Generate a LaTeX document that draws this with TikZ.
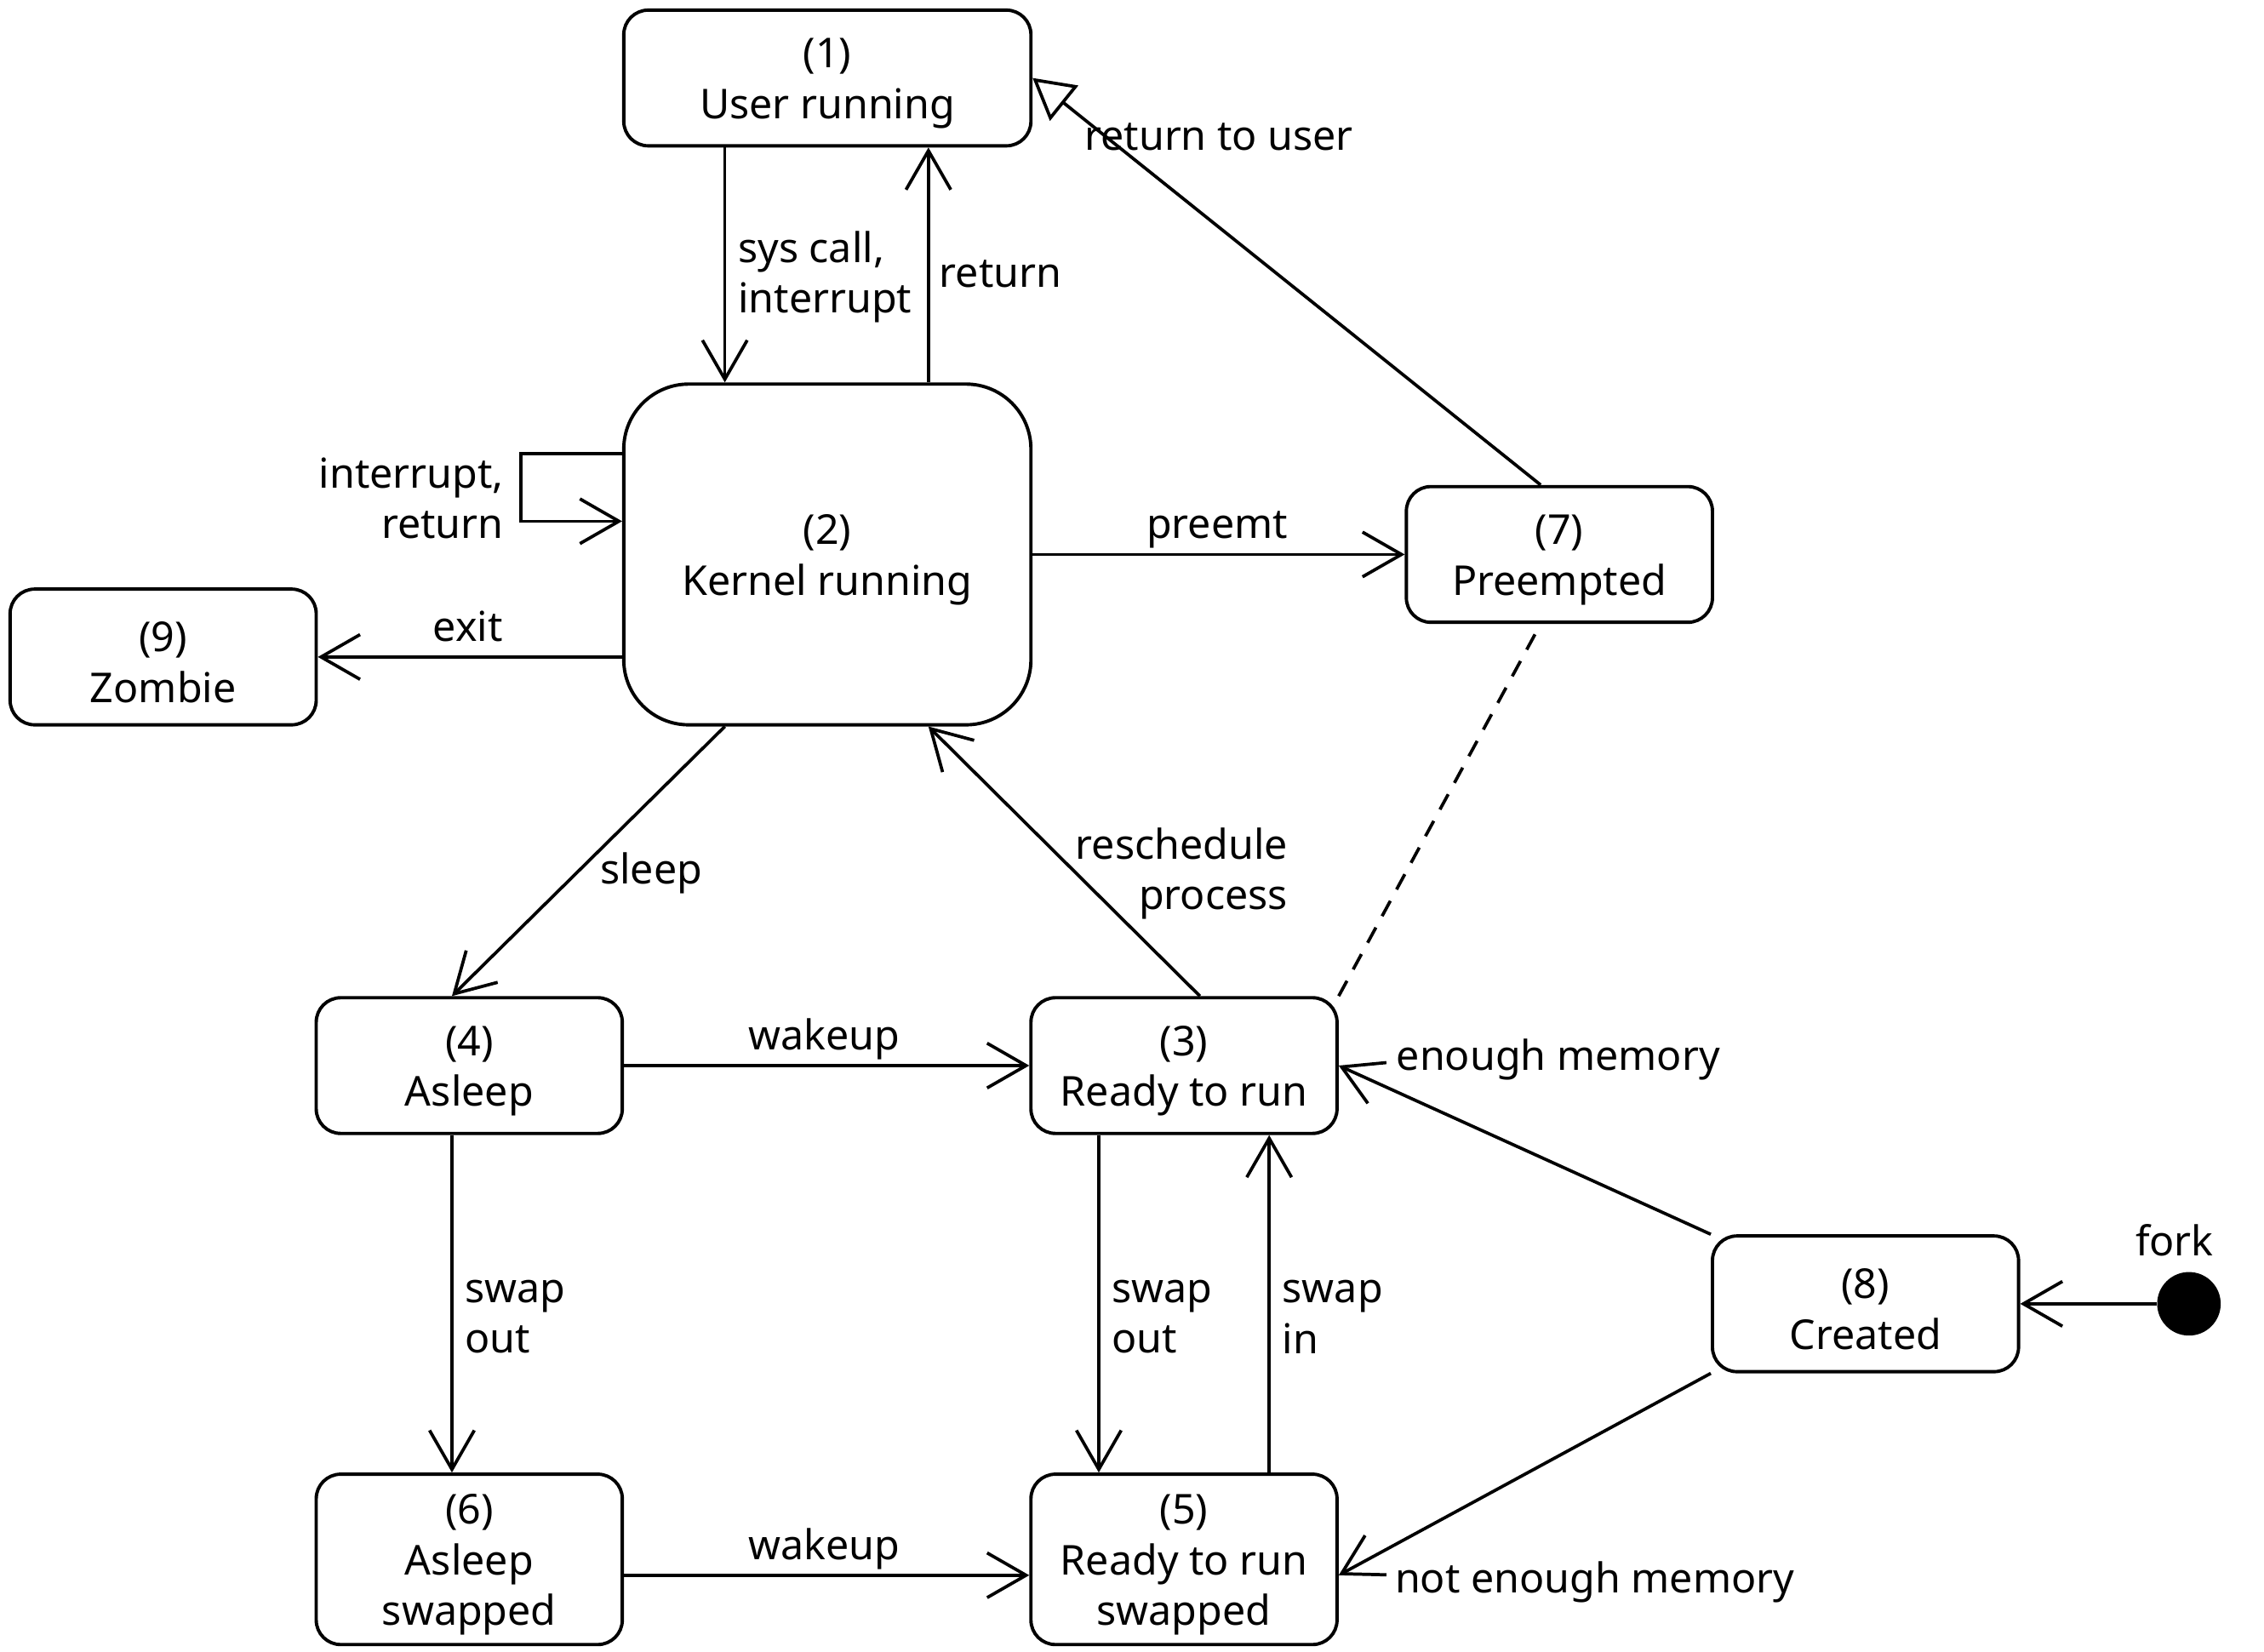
\documentclass[tikz,border=0pt]{standalone}
\usepackage{fontspec}
\setmainfont{Noto Sans}
\usetikzlibrary{arrows.meta,calc}
\newcommand\stpad{\rule{0pt}{28pt}}
\begin{document}
\begin{tikzpicture}[x=1pt,y=-1pt,
  every node/.style={font=\fontsize{28.5}{35}\selectfont},
  state/.style={draw, line width=2.3pt, rounded corners=17pt, align=center,
    minimum width=212pt, minimum height=94pt, inner sep=0pt},
  edge/.style={line width=2.2pt, -{Straight Barb[length=27pt,width=31pt,line width=2.2pt]}},
  lbl/.style={inner sep=0pt},
]
\useasboundingbox (0,0) rectangle (1568,1144);
% states
\node[state, minimum width=282pt] (n1) at (573,54) {\stpad(1)\\User running};
\node[state, minimum width=282pt, minimum height=236pt, rounded corners=45pt] (n2) at (573,384) {\stpad(2)\\Kernel running};
\node[state] (n7) at (1080,384) {\stpad(7)\\Preempted};
\node[state] (n9) at (113,455) {\stpad(9)\\Zombie};
\node[state] (n4) at (325,738) {\stpad(4)\\Asleep};
\node[state] (n3) at (820,738) {\stpad(3)\\Ready to run};
\node[state] (n8) at (1292,903) {\stpad(8)\\Created};
\node[state, minimum height=118pt] (n6) at (325,1080) {\stpad(6)\\Asleep\\swapped};
\node[state, minimum height=118pt] (n5) at (820,1080) {\stpad(5)\\Ready to run\\swapped};
\node[circle, fill, minimum size=44pt, inner sep=0pt] (fork) at (1516,903) {};
% edges
\draw[edge] ($(n1.south)+(-71,0)$) -- ($(n2.north)+(-71,0)$);
\draw[edge] ($(n2.north)+(70,0)$) -- ($(n1.south)+(70,0)$);
\draw[line width=2.2pt, -{Triangle[open,length=28pt,width=31pt,line width=2.2pt]}] ($(n7.north)+(-13,0)$) -- (n1.east);
\draw[edge] ($(n2.west)+(0,-70)$) -- ++(-70,0) |- ($(n2.west)+(0,-23)$);
\draw[edge] (n2.east) -- (n7.west);
\draw[edge] ($(n2.west)+(0,71)$) -- (n9.east);
\draw[edge] ($(n2.south)+(-71,0)$) -- ($(n4.north)+(-12,0)$);
\draw[edge] ($(n3.north)+(11,0)$) -- ($(n2.south)+(70,0)$);
\draw[line width=2.2pt, dash pattern=on 12pt off 9pt] (n3.north east) -- ($(n7.south)+(-13,0)$);
\draw[edge] (n4.east) -- (n3.west);
\draw[edge] ($(n4.south)+(-12,0)$) -- ($(n6.north)+(-12,0)$);
\draw[edge] ($(n3.south)+(-59,0)$) -- ($(n5.north)+(-59,0)$);
\draw[edge] ($(n5.north)+(59,0)$) -- ($(n3.south)+(59,0)$);
\draw[edge] (n8.north west) -- (n3.east);
\draw[edge] (n8.south west) -- ($(n5.east)+(0,11)$);
\draw[edge] ($(n6.east)+(0,11)$) -- ($(n5.west)+(0,11)$);
\draw[edge] (fork.west) -- (n8.east);
% labels
\node[lbl, anchor=west, align=left] (l1) at (511,192) {sys call,\\interrupt};
\node[lbl, anchor=base] (l2) at (693,199) {return};
\node[lbl, anchor=base west] (l3) at (751,104) {return to user};
\node[lbl, anchor=east, align=right] (l4) at (349,345) {interrupt,\\return};
\node[lbl, anchor=base] (l5) at (843,373) {preemt};
\node[lbl, anchor=base] (l6) at (324,444) {exit};
\node[lbl, anchor=base] (l7) at (451,612) {sleep};
\node[lbl, anchor=east, align=right] (l8) at (892,605) {reschedule\\process};
\node[lbl, anchor=base] (l9) at (571,727) {wakeup};
\node[lbl, anchor=base west] (l10) at (967,741) {enough memory};
\node[lbl, anchor=west, align=left] (l11) at (322,912) {swap\\out};
\node[lbl, anchor=west, align=left] (l12) at (770,912) {swap\\out};
\node[lbl, anchor=west, align=left] (l13) at (888,912) {swap\\in};
\node[lbl, anchor=base] (l14) at (1506,870) {fork};
\node[lbl, anchor=base] (l15) at (571,1080) {wakeup};
\node[lbl, anchor=base west] (l16) at (966,1103) {not enough memory};
\end{tikzpicture}
\end{document}
